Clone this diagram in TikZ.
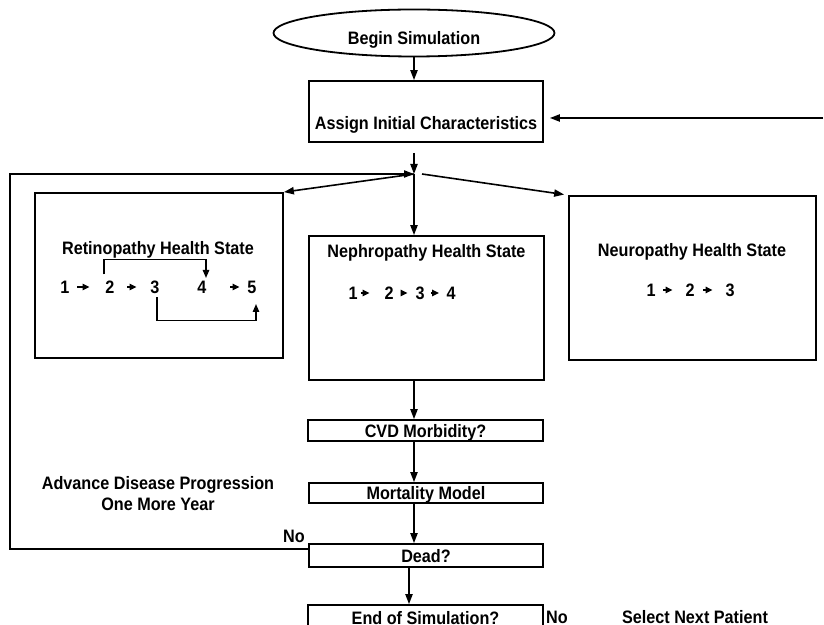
\documentclass[tikz,border=0pt]{standalone}
\usepackage{fontspec}
\newfontfamily\diagfont{Liberation Sans}[FakeStretch=0.9]
\usetikzlibrary{arrows.meta,shapes.geometric}
\begin{document}
\begin{tikzpicture}[x=0.5pt,y=-0.5pt,
  every node/.style={font=\diagfont\bfseries\fontsize{9}{10.5}\selectfont},
  box/.style={draw, line width=0.9pt, inner sep=0pt, text height=6.6pt, text depth=0pt},
  arr/.style={line width=0.8pt, -{Triangle[length=5pt,width=3.6pt]}},
  numarr/.style={line width=0.8pt, -{Triangle[length=3.5pt,width=3.2pt]}},
  num/.style={inner sep=0pt, text height=6.6pt, text depth=0pt},
  lbl/.style={inner sep=0pt, text height=6.6pt, text depth=0pt}]
\useasboundingbox (0,0) rectangle (824,625);
\clip (0,0) rectangle (824,625);

% main nodes
\node[draw, ellipse, line width=0.9pt, minimum width=140.5pt, minimum height=23.5pt,
      inner sep=0pt, text height=11.5pt, text depth=0pt] (begin) at (414,33) {Begin Simulation};
\node[draw, line width=0.9pt, inner sep=0pt, minimum width=117pt, minimum height=30.5pt,
      text height=24pt, text depth=6pt] (assign) at (426,111.5) {Assign Initial Characteristics};

\node[box, minimum width=124pt, minimum height=82.5pt] (retino) at (159,275.5) {};
\node[box, minimum width=117.5pt, minimum height=72pt] (nephro) at (426.5,308) {};
\node[box, minimum width=123.5pt, minimum height=82pt] (neuro) at (692.5,278) {};

\node[box, minimum width=117.5pt, minimum height=10.5pt] (cvd) at (425.5,430.5) {CVD Morbidity?};
\node[box, minimum width=117pt, minimum height=10pt] (mort) at (426,493) {Mortality Model};
\node[box, minimum width=117pt, minimum height=11.5pt] (dead) at (426,555.5) {Dead?};
\node[box, minimum width=117.5pt, minimum height=12.5pt] (endsim) at (425.5,617.5) {End of Simulation?};

% titles
\node[lbl] (rtitle) at (158,248) {Retinopathy Health State};
\node[lbl] (ntitle) at (426.5,251) {Nephropathy Health State};
\node[lbl] (utitle) at (692,250) {Neuropathy Health State};

% retinopathy states
\node[num] (r1) at (65,287) {1};
\node[num] (r2) at (110,287) {2};
\node[num] (r3) at (155,287) {3};
\node[num] (r4) at (202,287) {4};
\node[num] (r5) at (252,287) {5};
\draw[numarr, shorten <=3.75pt, shorten >=7.75pt] (r1) -- (r2);
\draw[numarr, shorten <=6.25pt, shorten >=6.75pt] (r2) -- (r3);
\draw[numarr, shorten <=11.75pt, shorten >=3.75pt] (r4) -- (r5);
\draw[line width=0.7pt, -{Triangle[length=4pt,width=3.2pt]}]
  ([xshift=-3pt,yshift=2.75pt]r2.north) -- ++(0,-15) -| ([xshift=2pt,yshift=1pt]r4.north);
\draw[line width=0.7pt, -{Triangle[length=4pt,width=3.2pt]}]
  ([xshift=1pt,yshift=-1.75pt]r3.south) -- ++(0,23) -| ([xshift=2pt,yshift=-5pt]r5.south);

% nephropathy states
\node[num] (n1) at (353,293) {1};
\node[num] (n2) at (389,293) {2};
\node[num] (n3) at (420,293) {3};
\node[num] (n4) at (451,293) {4};
\draw[numarr, shorten <=1.5pt, shorten >=7.25pt] (n1) -- (n2);
\draw[numarr, shorten <=3.75pt, shorten >=3.75pt] (n2) -- (n3);
\draw[numarr, shorten <=3.25pt, shorten >=3.5pt] (n3) -- (n4);

% neuropathy states
\node[num] (u1) at (651,290) {1};
\node[num] (u2) at (690,290) {2};
\node[num] (u3) at (730,290) {3};
\draw[numarr, shorten <=3.75pt, shorten >=6.25pt] (u1) -- (u2);
\draw[numarr, shorten <=4.25pt, shorten >=6.25pt] (u2) -- (u3);

% free texts
\node[lbl, align=center] (adv) at (158,503.5) {Advance Disease Progression\\One More Year};
\node[lbl] (no1) at (294,536) {No};
\node[lbl] (no2) at (557,617) {No};
\node[lbl] (next) at (695,617) {Select Next Patient};

% connectors
\coordinate (j) at (414,174);
\coordinate (j2) at (409,174);
\coordinate (rin) at (823,118);
\coordinate (lc) at (10,174);

\draw[arr] (begin.south) -- (begin.south |- assign.north);
\draw[arr, shorten <=5pt] (assign.south -| j) -- (j);
\draw[arr, shorten >=3pt] (rin) -- (rin -| assign.east);
\draw[arr] ([yshift=3.25pt]dead.west) -| (lc) -- (j);
\draw[arr] (j) -- (retino.north east);
\draw[arr, shorten >=2pt] ([xshift=4pt]j) -- (neuro.north west);
\draw[arr] (j) -- (j |- nephro.north);
\draw[arr] (nephro.south -| j) -- (cvd.north -| j);
\draw[arr] (cvd.south -| j) -- (mort.north -| j);
\draw[arr] (mort.south -| j) -- (dead.north -| j);
\draw[arr] (dead.south -| j2) -- (endsim.north -| j2);
\end{tikzpicture}
\end{document}
